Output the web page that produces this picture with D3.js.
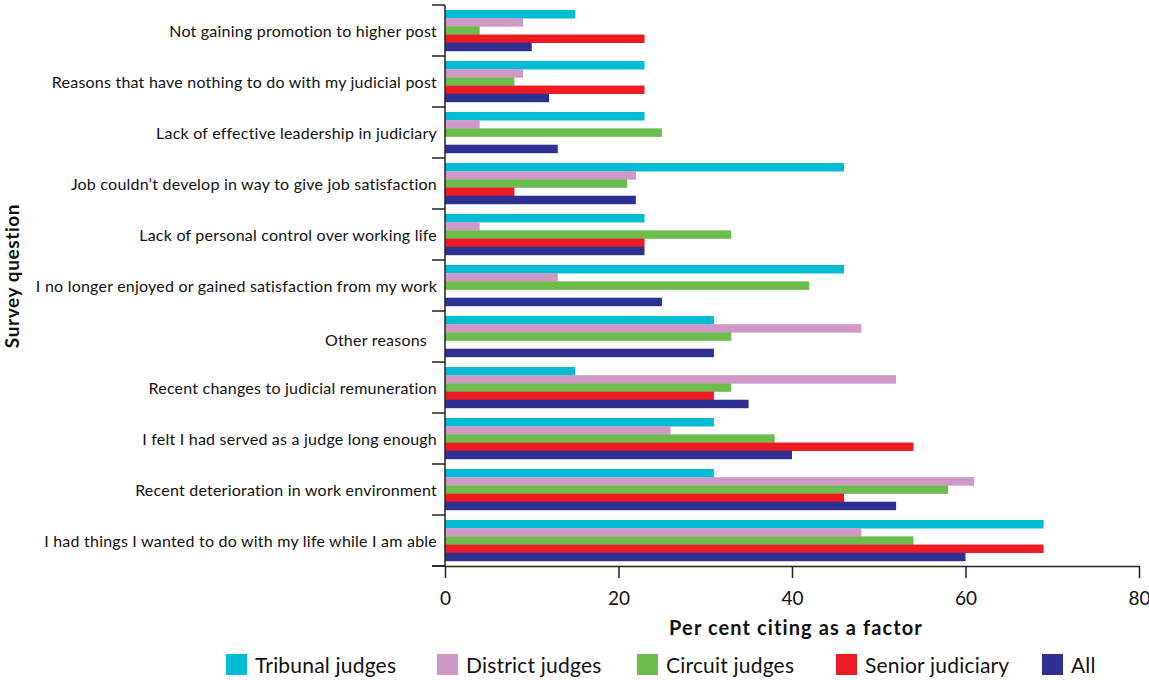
<!DOCTYPE html>
<html><head><meta charset="utf-8">
<script src="https://cdn.jsdelivr.net/npm/d3@7"></script>
<style>
body{margin:0;background:#fff;}
text{font-family:Lato,"Noto Sans",sans-serif;fill:#111;}
</style></head>
<body>
<svg id="c" width="1149" height="680"></svg>
<script>
const categories = [
  "Not gaining promotion to higher post",
  "Reasons that have nothing to do with my judicial post",
  "Lack of effective leadership in judiciary",
  "Job couldn\u2019t develop in way to give job satisfaction",
  "Lack of personal control over working life",
  "I no longer enjoyed or gained satisfaction from my work",
  "Other reasons",
  "Recent changes to judicial remuneration",
  "I felt I had served as a judge long enough",
  "Recent deterioration in work environment",
  "I had things I wanted to do with my life while I am able"
];
const seriesNames = ["Tribunal judges","District judges","Circuit judges","Senior judiciary","All"];
const tribunal = [15,23,23,46,23,46,31,15,31,31,69];
const district = [9,9,4,22,4,13,48,52,26,61,48];
const circuit  = [4,8,25,21,33,42,33,33,38,58,54];
const senior   = [23,23,0,8,23,0,0,31,54,46,69];
const all      = [10,12,13,22,23,25,31,35,40,52,60];
const xTicks = [0,20,40,60,80];
const colors = ["#00bcd4","#cf98c7","#6cbd4e","#ed1c24","#2e3192"];
const seriesValues = [tribunal,district,circuit,senior,all];

const svg = d3.select("#c");
const L = 445, R = 1139, T = 5, B = 566;

const x = d3.scaleLinear().domain([0,80]).range([L,R]);
const y = d3.scaleBand().domain(categories).range([T,B]).padding(0);
const ys = d3.scaleBand().domain(seriesNames).range([y.bandwidth()*0.098, y.bandwidth()*0.9]).padding(0);

// bars
categories.forEach((c,i)=>{
  const g = svg.append("g").attr("transform",`translate(0,${y(c)})`);
  g.selectAll("rect").data(seriesNames.map((s,j)=>({s,v:seriesValues[j][i],col:colors[j]})))
   .join("rect")
   .attr("x",x(0))
   .attr("y",d=>ys(d.s))
   .attr("width",d=>x(d.v)-x(0))
   .attr("height",ys.bandwidth()+0.3)
   .attr("fill",d=>d.col);
});

// y axis
const yAxis = svg.append("g").attr("transform",`translate(${L},0)`)
  .call(d3.axisLeft(y).tickSize(0).tickPadding(8));
yAxis.select(".domain").remove();
yAxis.selectAll("text").style("font-size","16px").style("letter-spacing","0.22px")
  .style("font-family","Lato,sans-serif").attr("fill","#111").attr("dy","0.4em");
yAxis.selectAll(".tick").filter(d=>d==="Other reasons").select("text").attr("dx",-10).attr("dy","0.6em");

const boundaries = categories.map(c=>y(c)).concat([B]);
svg.append("g").selectAll("line").data(boundaries).join("line")
  .attr("x1",L-13).attr("x2",L).attr("y1",d=>d).attr("y2",d=>d)
  .attr("stroke","#222").attr("stroke-width",1.5);
svg.append("line").attr("x1",L).attr("x2",L).attr("y1",T).attr("y2",B)
  .attr("stroke","#222").attr("stroke-width",1.5);

// x axis
const xAxis = svg.append("g").attr("transform",`translate(0,${B})`)
  .call(d3.axisBottom(x).tickValues(xTicks).tickSize(12).tickPadding(14).tickSizeOuter(0));
xAxis.select(".domain").attr("stroke","#222").attr("stroke-width",1.5);
xAxis.selectAll(".tick line").attr("stroke","#222").attr("stroke-width",1.5);
xAxis.selectAll("text").style("font-size","19px").style("font-family","Lato,sans-serif").attr("fill","#111");
svg.append("line").attr("x1",L-13).attr("x2",L).attr("y1",B).attr("y2",B).attr("stroke","#222").attr("stroke-width",1.5);

// axis titles
svg.append("text").attr("x",796).attr("y",635).attr("text-anchor","middle")
  .style("font-size","20px").style("letter-spacing","1.1px").style("font-weight","bold").text("Per cent citing as a factor");
svg.append("text").attr("transform","translate(19,276) rotate(-90)").attr("text-anchor","middle")
  .style("font-size","19px").style("letter-spacing","0.6px").style("font-weight","bold").text("Survey question");

// legend
const legX = [226,437,637,836,1042];
const leg = svg.append("g");
seriesNames.forEach((s,j)=>{
  leg.append("rect").attr("x",legX[j]).attr("y",654).attr("width",21).attr("height",21).attr("fill",colors[j]);
  leg.append("text").attr("x",legX[j]+29).attr("y",673).style("font-size","21px").style("letter-spacing","0.2px").text(s);
});
</script>
</body></html>
